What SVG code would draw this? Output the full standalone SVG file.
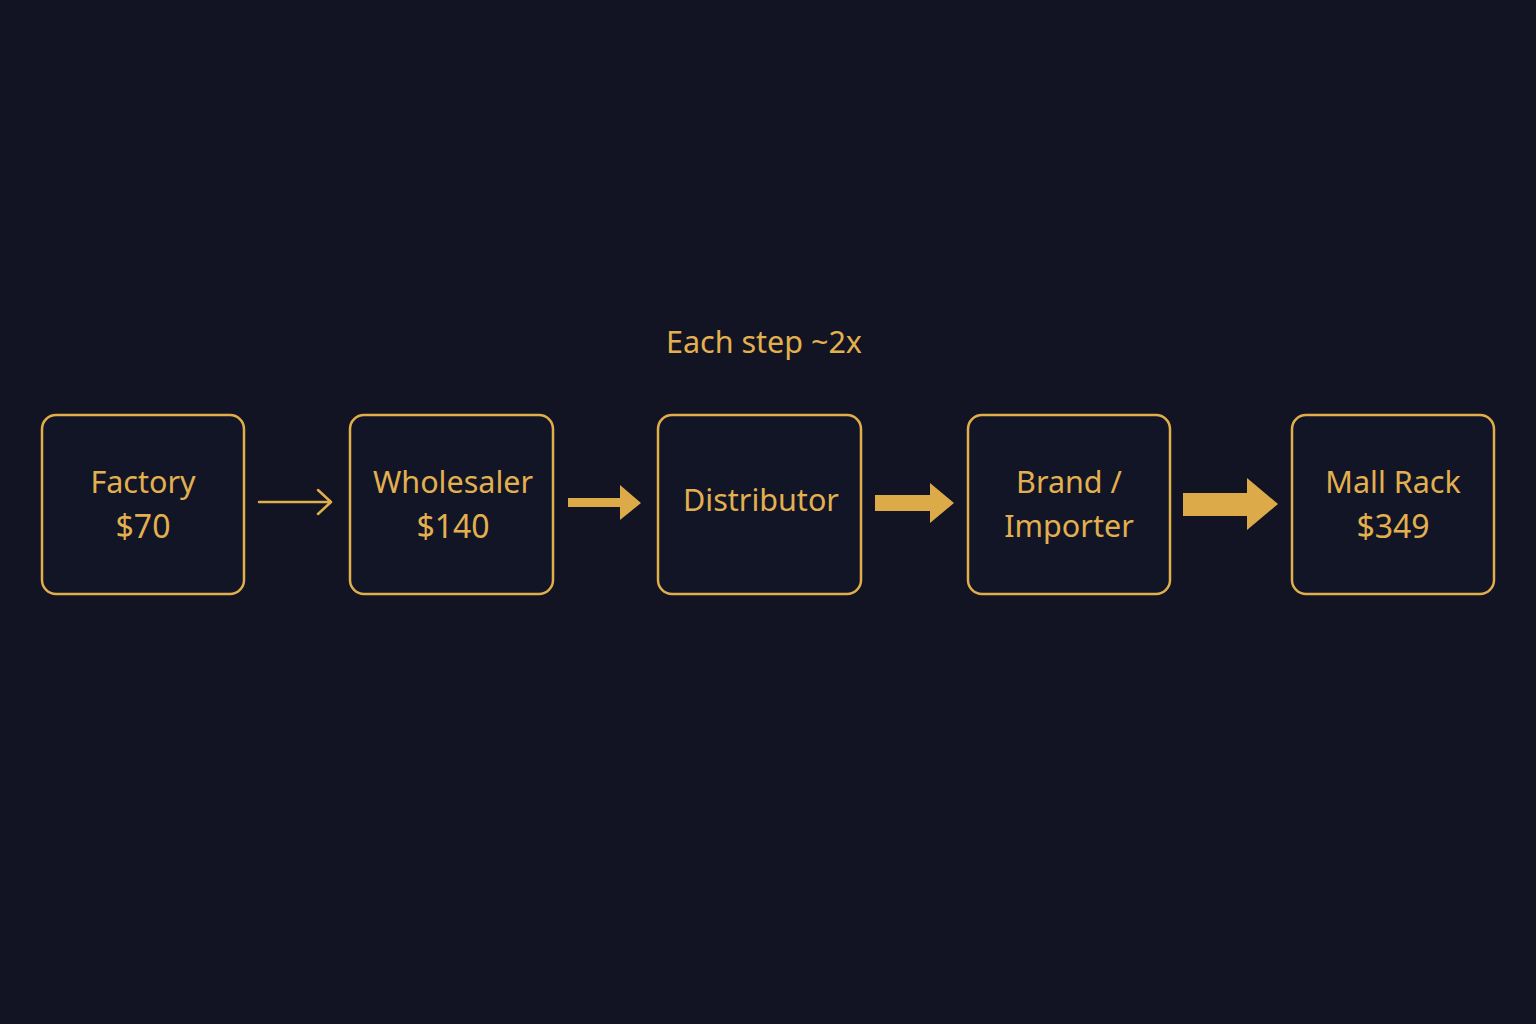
<svg xmlns="http://www.w3.org/2000/svg" width="1536" height="1024" viewBox="0 0 1536 1024">
<style>
.box{fill:#121526;stroke:#e0ae4a;stroke-width:2.5}
.t{font-family:"Noto Sans","Open Sans",sans-serif;font-size:30.5px;fill:#e3b04f;text-anchor:middle}
.n{font-size:32px}
.blk{fill:#dcaa48}
</style>
<rect width="1536" height="1024" fill="#121424"/>
<text class="t" x="764" y="353">Each step ~2x</text>
<g id="factory"><rect class="box" x="42" y="415" width="202" height="179" rx="14"/><text class="t" x="143" y="493">Factory</text><text class="t n" x="143" y="538">$70</text></g>
<g id="wholesaler"><rect class="box" x="350" y="415" width="203" height="179" rx="14"/><text class="t" x="453" y="493">Wholesaler</text><text class="t n" x="453" y="538">$140</text></g>
<g id="distributor"><rect class="box" x="658" y="415" width="203" height="179" rx="14"/><text class="t" x="761" y="511">Distributor</text></g>
<g id="brand"><rect class="box" x="968" y="415" width="202" height="179" rx="14"/><text class="t" x="1069" y="493">Brand /</text><text class="t" x="1069" y="537">Importer</text></g>
<g id="mallrack"><rect class="box" x="1292" y="415" width="202" height="179" rx="14"/><text class="t" x="1393" y="493">Mall Rack</text><text class="t n" x="1393" y="538">$349</text></g>
<g id="connectors">
<path d="M259 502 H330 M318 490 L331 502 L318 514" fill="none" stroke="#e0ae4a" stroke-width="2.5" stroke-linecap="round" stroke-linejoin="round"/>
<polygon class="blk" points="568,498 620,498 620,485 641,503 620,520 620,507 568,507"/>
<polygon class="blk" points="875,495 930,495 930,483 954,503 930,523 930,511 875,511"/>
<polygon class="blk" points="1183,493 1247,493 1247,478 1278,504 1247,530 1247,516 1183,516"/>
</g>
</svg>
